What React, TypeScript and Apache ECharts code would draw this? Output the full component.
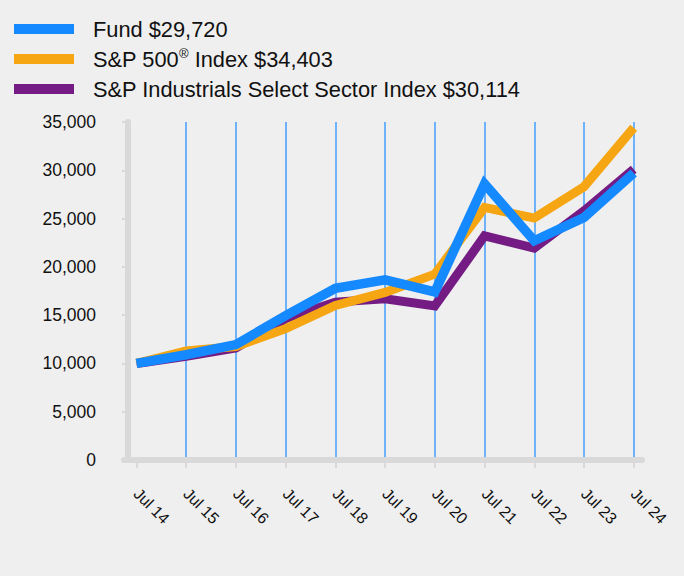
import React, { useEffect, useRef } from "react";
import * as echarts from "echarts";

const categories = ["Jul 14", "Jul 15", "Jul 16", "Jul 17", "Jul 18", "Jul 19", "Jul 20", "Jul 21", "Jul 22", "Jul 23", "Jul 24"];
const fundValues = [10000, 10900, 11950, 14950, 17780, 18650, 17400, 28600, 22700, 25100, 29720];
const sp500Values = [10000, 11300, 11750, 13600, 16000, 17350, 19250, 26150, 25050, 28300, 34403];
const industrialsValues = [10000, 10750, 11600, 14650, 16350, 16700, 15950, 23200, 21950, 25800, 30114];
const seriesNames = ["Fund $29,720", "S&P 500® Index $34,403", "S&P Industrials Select Sector Index $30,114"];
const yTicks = { min: 0, max: 35000, interval: 5000 };

const FONT = "'Liberation Sans', Arial, Helvetica, sans-serif";
const COLORS = ["#1589FF", "#F5A612", "#741C84"];
const GRAY = "#D9D9D9";
const GRID_BLUE = "#6EB2FA";

export default function App() {
  const ref = useRef<HTMLDivElement>(null);
  useEffect(() => {
    if (!ref.current) return;
    const chart = echarts.init(ref.current, null, { renderer: "svg" });
    const tickIdx = categories.map((_, i) => i);
    const toPairs = (arr: number[]) => arr.map((v, i) => [i, v]);
    const legendBase = {
      left: 14,
      padding: 0,
      icon: "rect",
      itemWidth: 60,
      itemHeight: 10,
      selectedMode: false,
      textStyle: {
        fontFamily: FONT,
        fontSize: 21.8,
        color: "#111",
        lineHeight: 24,
        padding: [0, 0, 0, 14],
        rich: {
          sup: { fontFamily: FONT, fontSize: 13, lineHeight: 14, verticalAlign: "top", color: "#111" },
        },
      },
      formatter: (name: string) => name.replace("®", "{sup|®}"),
    };
    chart.setOption({
      animation: false,
      backgroundColor: "#EFEFEF",
      legend: [
        { ...legendBase, top: 17, data: [seriesNames[0]] },
        { ...legendBase, top: 47, data: [seriesNames[1]] },
        { ...legendBase, top: 77, data: [seriesNames[2]] },
      ],
      grid: { left: 124, right: 42, top: 122, bottom: 116 },
      xAxis: {
        type: "value",
        min: -0.2514,
        max: 10.167,
        axisLine: { show: true, lineStyle: { color: GRAY, width: 6 } },
        axisTick: { show: true, customValues: tickIdx, length: 8, lineStyle: { color: GRAY, width: 2 } },
        axisLabel: {
          customValues: tickIdx,
          formatter: (v: number) => categories[Math.round(v)] ?? "",
          rotate: -45,
          margin: 31,
          fontFamily: FONT,
          fontSize: 16,
          color: "#111",
        },
        splitLine: { show: true, showMinLine: false, lineStyle: { color: GRID_BLUE, width: 2 } },
      },
      yAxis: {
        type: "value",
        min: yTicks.min,
        max: yTicks.max,
        interval: yTicks.interval,
        offset: -4,
        axisLine: { show: true, onZero: false, lineStyle: { color: GRAY, width: 6 } },
        axisTick: { show: true, length: 6, lineStyle: { color: GRAY, width: 2 } },
        axisLabel: {
          margin: 32,
          fontFamily: FONT,
          fontSize: 17.5,
          color: "#111",
          formatter: (v: number) => v.toLocaleString("en-US"),
        },
        splitLine: { show: false },
      },
      series: [
        {
          name: seriesNames[0],
          type: "line",
          data: toPairs(fundValues),
          showSymbol: false,
          symbol: "none",
          z: 4,
          lineStyle: { color: COLORS[0], width: 9.5, join: "miter" },
          itemStyle: { color: COLORS[0] },
        },
        {
          name: seriesNames[1],
          type: "line",
          data: toPairs(sp500Values),
          showSymbol: false,
          symbol: "none",
          z: 3,
          lineStyle: { color: COLORS[1], width: 9, join: "miter" },
          itemStyle: { color: COLORS[1] },
        },
        {
          name: seriesNames[2],
          type: "line",
          data: toPairs(industrialsValues),
          showSymbol: false,
          symbol: "none",
          z: 2,
          lineStyle: { color: COLORS[2], width: 9, join: "miter" },
          itemStyle: { color: COLORS[2] },
        },
      ],
    });
    return () => chart.dispose();
  }, []);
  return (
    <div
      ref={ref}
      style={{ position: "fixed", left: 0, top: 0, width: 684, height: 576, background: "#EFEFEF" }}
    />
  );
}
